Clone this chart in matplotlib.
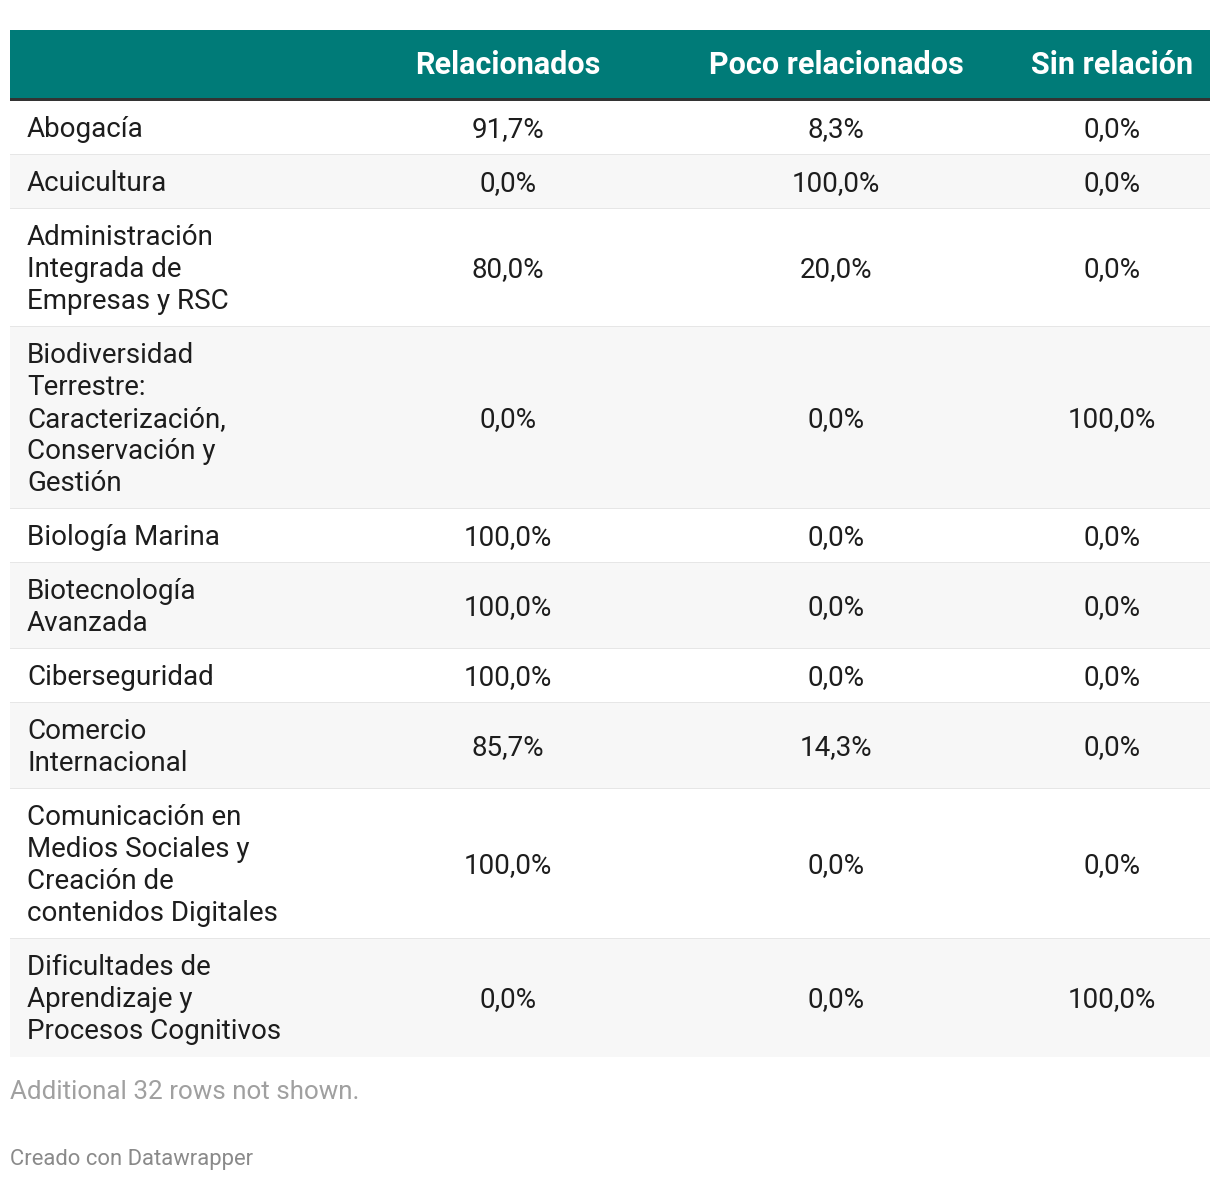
import matplotlib.pyplot as plt
from matplotlib.patches import Rectangle

plt.rcParams["font.family"] = ["Roboto", "DejaVu Sans"]

columns = ["Relacionados", "Poco relacionados", "Sin relación"]
labels = [
    "Abogacía",
    "Acuicultura",
    "Administración\nIntegrada de\nEmpresas y RSC",
    "Biodiversidad\nTerrestre:\nCaracterización,\nConservación y\nGestión",
    "Biología Marina",
    "Biotecnología\nAvanzada",
    "Ciberseguridad",
    "Comercio\nInternacional",
    "Comunicación en\nMedios Sociales y\nCreación de\ncontenidos Digitales",
    "Dificultades de\nAprendizaje y\nProcesos Cognitivos",
]
relacionados = [91.7, 0.0, 80.0, 0.0, 100.0, 100.0, 100.0, 85.7, 100.0, 0.0]
poco_relacionados = [8.3, 100.0, 20.0, 0.0, 0.0, 0.0, 0.0, 14.3, 0.0, 0.0]
sin_relacion = [0.0, 0.0, 0.0, 100.0, 0.0, 0.0, 0.0, 0.0, 0.0, 100.0]
note = "Additional 32 rows not shown."
credit = "Creado con Datawrapper"

W, H = 1220, 1182
LEFT, RIGHT = 10, 1210
HEADER_TOP, HEADER_BOTTOM = 30, 98
LINE_H = 32
PAD = 22
col_x = [508, 836, 1112]
TEAL = "#007b78"


def fmt(v):
    return f"{v:.1f}%".replace(".", ",")


fig = plt.figure(figsize=(W / 100, H / 100), dpi=100)
ax = fig.add_axes([0, 0, 1, 1])
ax.set_xlim(0, W)
ax.set_ylim(H, 0)
ax.axis("off")

# header
ax.add_patch(Rectangle((LEFT, HEADER_TOP), RIGHT - LEFT, HEADER_BOTTOM - HEADER_TOP,
                       color=TEAL, lw=0))
ax.add_patch(Rectangle((LEFT, HEADER_BOTTOM), RIGHT - LEFT, 3, color="#333333", lw=0))
for x, name in zip(col_x, columns):
    ax.text(x, 65, name, ha="center", va="center", color="white",
            fontsize=22, fontweight="bold")

# rows
y = HEADER_BOTTOM + 3
values = list(zip(relacionados, poco_relacionados, sin_relacion))
for i, (lab, vals) in enumerate(zip(labels, values)):
    lines = lab.split("\n")
    h = PAD + LINE_H * len(lines)
    bg = "white" if i % 2 == 0 else "#f7f7f7"
    ax.add_patch(Rectangle((LEFT, y), RIGHT - LEFT, h, color=bg, lw=0))
    if i < len(labels) - 1:
        ax.add_patch(Rectangle((LEFT, y + h - 1), RIGHT - LEFT, 2, color="#e6e6e6", lw=0))
    mid = y + h / 2 + 1.5
    top = mid - LINE_H * (len(lines) - 1) / 2
    for k, line in enumerate(lines):
        ax.text(27, top + k * LINE_H, line, ha="left", va="center",
                color="#1d1d1d", fontsize=20)
    for x, v in zip(col_x, vals):
        ax.text(x, mid, fmt(v), ha="center", va="center", color="#1d1d1d", fontsize=20)
    y += h

ax.text(10, 1092, note, ha="left", va="center", color="#a0a0a0", fontsize=18.7)
ax.text(10, 1159, credit, ha="left", va="center", color="#8a8a8a", fontsize=15.8)

fig.savefig("out.png", dpi=100)
